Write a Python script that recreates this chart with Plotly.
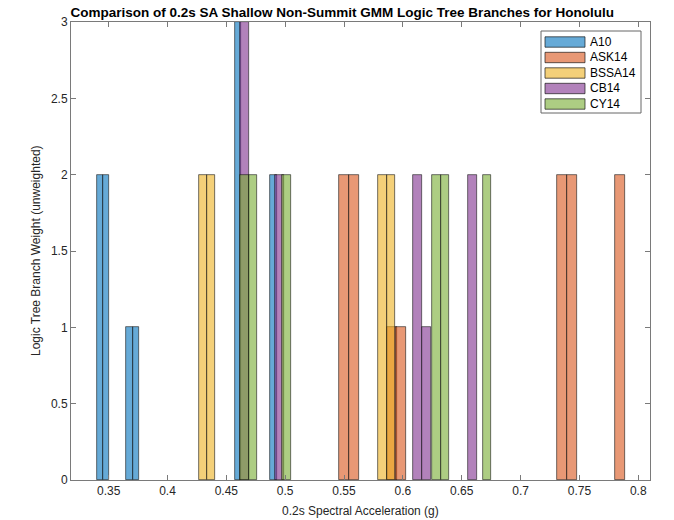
import plotly.graph_objects as go

# Histogram bins per ground-motion model: bin centres (g) and branch counts
series_names = ["A10", "ASK14", "BSSA14", "CB14", "CY14"]
bin_widths = [0.0056, 0.0083, 0.0071, 0.0072, 0.0071]

a10_centers = [0.3425, 0.3479, 0.3677, 0.3734, 0.4598, 0.4900]
a10_counts = [2, 2, 1, 1, 3, 2]

ask14_centers = [0.5503, 0.5584, 0.5905, 0.5986, 0.7351, 0.7436, 0.7847]
ask14_counts = [2, 2, 1, 1, 2, 2, 2]

bssa14_centers = [0.4299, 0.4369, 0.5828, 0.5899]
bssa14_counts = [2, 2, 2, 2]

cb14_centers = [0.4654, 0.4950, 0.6126, 0.6200, 0.6592]
cb14_counts = [3, 2, 2, 1, 2]

cy14_centers = [0.4655, 0.4726, 0.5010, 0.6285, 0.6356, 0.6714]
cy14_counts = [2, 2, 2, 2, 2, 2]

x_ticks = [0.35, 0.4, 0.45, 0.5, 0.55, 0.6, 0.65, 0.7, 0.75, 0.8]
x_tick_labels = ["0.35", "0.4", "0.45", "0.5", "0.55", "0.6", "0.65", "0.7", "0.75", "0.8"]
y_ticks = [0, 0.5, 1, 1.5, 2, 2.5, 3]
y_tick_labels = ["0", "0.5", "1", "1.5", "2", "2.5", "3"]

centers = [a10_centers, ask14_centers, bssa14_centers, cb14_centers, cy14_centers]
counts = [a10_counts, ask14_counts, bssa14_counts, cb14_counts, cy14_counts]

base_rgb = [(0, 114, 189), (217, 83, 25), (237, 177, 32), (126, 47, 142), (119, 172, 48)]
face_alpha = 0.6
edge_color = "rgba(20,20,20,0.85)"
font_family = "Liberation Sans, Arial, Helvetica, sans-serif"
text_color = "#262626"
axis_color = "#7a7a7a"

fig = go.Figure()
for name, xs, ys, w, rgb in zip(series_names, centers, counts, bin_widths, base_rgb):
    fig.add_trace(go.Bar(
        x=xs, y=ys, width=[w] * len(xs), name=name,
        marker=dict(color="rgba(%d,%d,%d,%.2f)" % (rgb + (face_alpha,)),
                    line=dict(color=edge_color, width=0.7)),
        showlegend=False,
    ))

# Legend box drawn in paper coordinates (wide MATLAB-style swatches)
plot_l, plot_r, plot_t, plot_b = 71, 650, 22, 480
pw, ph = plot_r - plot_l, plot_b - plot_t


def px_x(v):
    return (v - plot_l) / pw


def px_y(v):
    return (plot_b - v) / ph


shapes = [dict(type="rect", xref="paper", yref="paper",
               x0=px_x(541), x1=px_x(641), y0=px_y(113), y1=px_y(31),
               line=dict(color="#666666", width=1), fillcolor="white", layer="above")]
annotations = []
row_y = [42, 57.5, 73, 88.5, 104]
for name, rgb, ry in zip(series_names, base_rgb, row_y):
    shapes.append(dict(type="rect", xref="paper", yref="paper",
                       x0=px_x(545), x1=px_x(585), y0=px_y(ry + 5.2), y1=px_y(ry - 5.2),
                       fillcolor="rgba(%d,%d,%d,%.2f)" % (rgb + (face_alpha,)),
                       line=dict(color=edge_color, width=0.8), layer="above"))
    annotations.append(dict(xref="paper", yref="paper", x=px_x(588), y=px_y(ry),
                            xanchor="left", yanchor="middle", showarrow=False, text=name,
                            font=dict(family=font_family, size=12, color="black")))

annotations.append(dict(xref="paper", yref="paper", x=0.5, y=px_y(511),
                        xanchor="center", yanchor="middle", showarrow=False,
                        text="0.2s Spectral Acceleration (g)",
                        font=dict(family=font_family, size=12, color=text_color)))
annotations.append(dict(xref="paper", yref="paper", x=px_x(36), y=0.5,
                        xanchor="center", yanchor="middle", showarrow=False, textangle=-90,
                        text="Logic Tree Branch Weight (unweighted)",
                        font=dict(family=font_family, size=12, color=text_color)))

axis_common = dict(showline=True, linecolor=axis_color, linewidth=1, mirror="ticks",
                   ticks="inside", ticklen=5, tickcolor=axis_color, showgrid=False,
                   zeroline=False, tickfont=dict(family=font_family, size=12, color=text_color))

fig.update_layout(
    width=674, height=520,
    margin=dict(l=plot_l, r=674 - plot_r, t=plot_t, b=520 - plot_b),
    paper_bgcolor="white", plot_bgcolor="white",
    barmode="overlay", bargap=0,
    title=dict(text="<b>Comparison of 0.2s SA Shallow Non-Summit GMM Logic Tree Branches for Honolulu</b>",
               x=px_x(365), xanchor="center", y=1 - 12 / 520, yanchor="middle",
               font=dict(family=font_family, size=13.5, color="black")),
    xaxis=dict(range=[0.318, 0.810], tickvals=x_ticks, ticktext=x_tick_labels, **axis_common),
    yaxis=dict(range=[0, 3], tickvals=y_ticks, ticktext=y_tick_labels, **axis_common),
    shapes=shapes, annotations=annotations,
)

fig.write_html("out.html")
